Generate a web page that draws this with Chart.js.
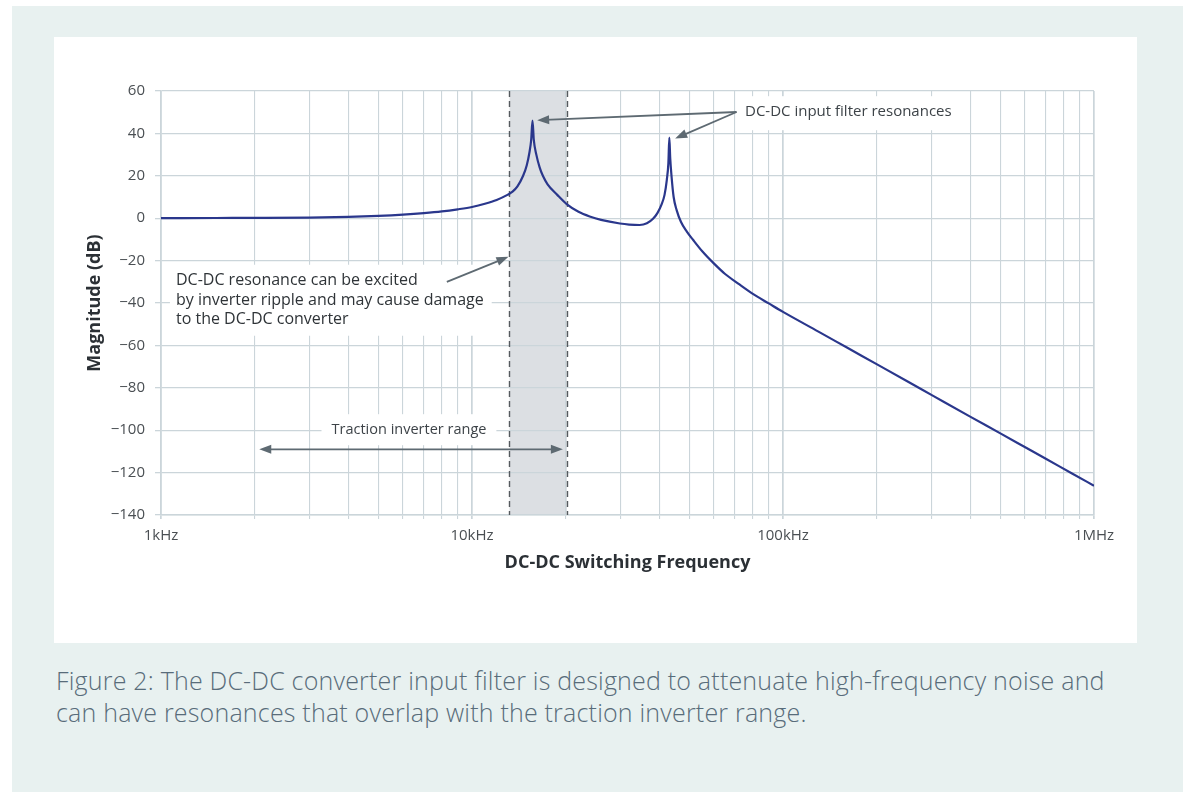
<!DOCTYPE html>
<html>
<head>
<meta charset="utf-8">
<title>DC-DC input filter response</title>
<script src="https://cdn.jsdelivr.net/npm/chart.js@4/dist/chart.umd.min.js"></script>
<style>
  html, body { margin: 0; padding: 0; background: #ffffff; }
  #frame { position: absolute; left: 12px; top: 6px; width: 1171px; height: 786px; background: #e8f1f0; }
  #panel { position: absolute; left: 42px; top: 31px; width: 1083px; height: 606px; background: #ffffff; }
  #caption { position: absolute; left: 44px; top: 658px; width: 1120px; margin: 0;
             font-family: 'Open Sans', sans-serif; font-weight: 300; font-size: 25px;
             letter-spacing: 0.2px; line-height: 32px; color: #586c7a; white-space: nowrap; }
</style>
</head>
<body>
<div id="frame">
  <div id="panel"><canvas id="chart" width="1083" height="606"></canvas></div>
  <p id="caption">Figure 2: The DC-DC converter input filter is designed to attenuate high-frequency noise and<br>can have resonances that overlap with the traction inverter range.</p>
</div>
<script>
// Input filter magnitude response (Hz, dB)
const freqHz = [
  1000, 1500, 2000, 3000, 4000, 5000, 6000, 7000, 8000, 9000,
  10000, 11000, 12000, 13000, 13500, 14000, 14600, 15000, 15300, 15500,
  15650, 15800, 16100, 16500, 16900, 17500, 18800, 20200, 22000, 23900,
  26000, 29900, 32000, 34600, 36500, 38200, 39500, 40700, 41600, 42300,
  42800, 43100, 43400, 43800, 44500, 45500, 47000, 49000, 51500, 55000,
  59800, 65000, 72000, 80000, 90000, 100000, 130000, 160000, 202000, 250000,
  304000, 401000, 500000, 595000, 700000, 850000, 1000000
];
const magnitudeDb = [
  0, 0.1, 0.15, 0.3, 0.6, 1.1, 1.7, 2.4, 3.2, 4.2,
  5.3, 6.8, 8.6, 11, 12.5, 15, 20, 25, 31, 37,
  46, 37, 30, 24, 20, 16, 11, 6.5, 3, 0.8,
  -0.8, -2.5, -3, -3.2, -2.4, -0.3, 2.5, 6.5, 11, 18,
  26, 38, 28, 20, 10, 3.8, -1.8, -6.2, -10.4, -15.6,
  -21.2, -26.2, -31, -35.7, -40.2, -44.2, -53.5, -60.9, -69.2, -76.8,
  -83.8, -93.7, -101.5, -107.7, -113.5, -120.4, -126.2
];

// Axis ticks
const yTicks = [-140, -120, -100, -80, -60, -40, -20, 0, 20, 40, 60];
const decades = [1000, 10000, 100000, 1000000];
const decadeLabels = ['1kHz', '10kHz', '100kHz', '1MHz'];

// Traction inverter band and annotations (data units)
const inverterBand = [13200, 20200];
const rangeArrow = { from: 2070, to: 19600, db: -109 };
const resonanceLabel = { text: 'DC-DC input filter resonances', f: 75500, db: 50 };
const resonanceTips = [ { f: 16200, db: 46.2 }, { f: 45000, db: 37.6 } ];
const resonanceStart = { f: 70900, db: 50.1 };
const noteLines = ['DC-DC resonance can be excited', 'by inverter ripple and may cause damage', 'to the DC-DC converter'];
const noteAnchor = { f: 1117, db: -29.5 };
const noteArrow = { from: { f: 8300, db: -30 }, to: { f: 13100, db: -18.2 } };
const rangeLabel = { text: 'Traction inverter range', f: 6270, db: -100 };

const xTickValues = [];
for (let d = 0; d < 3; d++) {
  for (let m = 1; m <= 9; m++) xTickValues.push(m * decades[d]);
}
xTickValues.push(decades[3]);

const points = freqHz.map((f, i) => ({ x: f, y: magnitudeDb[i] }));

const GRID = '#cbd5da';
const ARROW = '#5e6a72';

function arrowHead(ctx, x0, y0, x1, y1) {
  const a = Math.atan2(y1 - y0, x1 - x0);
  const len = 12, w = 4.5;
  ctx.beginPath();
  ctx.moveTo(x1, y1);
  ctx.lineTo(x1 - len * Math.cos(a) + w * Math.sin(a), y1 - len * Math.sin(a) - w * Math.cos(a));
  ctx.lineTo(x1 - len * Math.cos(a) - w * Math.sin(a), y1 - len * Math.sin(a) + w * Math.cos(a));
  ctx.closePath();
  ctx.fill();
}
function arrow(ctx, x0, y0, x1, y1, both) {
  const a = Math.atan2(y1 - y0, x1 - x0);
  ctx.beginPath();
  ctx.moveTo(both ? x0 + 8 * Math.cos(a) : x0, both ? y0 + 8 * Math.sin(a) : y0);
  ctx.lineTo(x1 - 8 * Math.cos(a), y1 - 8 * Math.sin(a));
  ctx.stroke();
  arrowHead(ctx, x0, y0, x1, y1);
  if (both) arrowHead(ctx, x1, y1, x0, y0);
}

// Shaded inverter band, drawn beneath the grid
const bandPlugin = {
  id: 'band',
  beforeDraw(chart) {
    const { ctx, chartArea: a, scales: { x } } = chart;
    const x0 = x.getPixelForValue(inverterBand[0]);
    const x1 = x.getPixelForValue(inverterBand[1]);
    ctx.save();
    ctx.fillStyle = '#dcdfe3';
    ctx.fillRect(x0, a.top, x1 - x0, a.bottom - a.top);
    ctx.restore();
  }
};

// Labels, boxes, arrows and band edges, drawn over the grid
const notesPlugin = {
  id: 'notes',
  beforeDatasetsDraw(chart) {
    const { ctx, chartArea: a, scales: { x, y } } = chart;
    const px = f => x.getPixelForValue(f);
    const py = v => y.getPixelForValue(v);
    ctx.save();

    // dashed band edges
    ctx.strokeStyle = '#555a5e';
    ctx.lineWidth = 1.4;
    ctx.setLineDash([6, 4]);
    inverterBand.forEach(f => {
      const xx = Math.round(px(f)) + 0.5;
      ctx.beginPath(); ctx.moveTo(xx, a.top); ctx.lineTo(xx, a.bottom); ctx.stroke();
    });
    ctx.setLineDash([]);

    ctx.textBaseline = 'middle';

    // resonance label
    ctx.font = "15px 'Open Sans', sans-serif";
    let lx = px(resonanceLabel.f), ly = py(resonanceLabel.db);
    let w = ctx.measureText(resonanceLabel.text).width;
    ctx.fillStyle = '#ffffff';
    ctx.fillRect(lx - 6, ly - 16, w + 12, 34);
    ctx.fillStyle = '#3d4348';
    ctx.textAlign = 'left';
    ctx.fillText(resonanceLabel.text, lx, ly);

    // note block
    ctx.font = "16px 'Open Sans', sans-serif";
    const nx = px(noteAnchor.f), ny = py(noteAnchor.db);
    const lh = 19.5;
    let nw = 0;
    noteLines.forEach(t => { nw = Math.max(nw, ctx.measureText(t).width); });
    ctx.fillStyle = '#ffffff';
    ctx.fillRect(nx - 6, ny - 16, nw + 14, lh * 2 + 32);
    ctx.fillStyle = '#2f3438';
    noteLines.forEach((t, i) => ctx.fillText(t, nx, ny + i * lh));

    // range label
    ctx.font = "14.5px 'Open Sans', sans-serif";
    const rx = px(rangeLabel.f), ry = py(rangeLabel.db);
    w = ctx.measureText(rangeLabel.text).width;
    ctx.fillStyle = '#ffffff';
    ctx.fillRect(rx - w / 2 - 10, ry - 16, w + 20, 31);
    ctx.fillStyle = '#3d4348';
    ctx.textAlign = 'center';
    ctx.fillText(rangeLabel.text, rx, ry);

    // arrows
    ctx.strokeStyle = ARROW;
    ctx.fillStyle = ARROW;
    ctx.lineWidth = 1.8;
    resonanceTips.forEach(t => {
      arrow(ctx, px(resonanceStart.f), py(resonanceStart.db), px(t.f), py(t.db), false);
    });
    arrow(ctx, px(noteArrow.from.f), py(noteArrow.from.db), px(noteArrow.to.f), py(noteArrow.to.db), false);
    arrow(ctx, px(rangeArrow.from), py(rangeArrow.db), px(rangeArrow.to), py(rangeArrow.db), true);

    ctx.restore();
  }
};

Chart.defaults.font.family = "'Open Sans', sans-serif";

new Chart(document.getElementById('chart'), {
  type: 'line',
  data: {
    datasets: [{
      data: points,
      borderColor: '#2a378c',
      borderWidth: 2.2,
      pointRadius: 0,
      cubicInterpolationMode: 'monotone',
      fill: false
    }]
  },
  options: {
    responsive: false,
    animation: false,
    devicePixelRatio: 1,
    layout: { padding: { top: 54, right: 43, left: 0, bottom: 0 } },
    plugins: { legend: { display: false }, tooltip: { enabled: false } },
    scales: {
      x: {
        type: 'logarithmic',
        min: 1000,
        max: 1000000,
        afterBuildTicks(scale) { scale.ticks = xTickValues.map(v => ({ value: v })); },
        afterFit(scale) { scale.height = 128; },
        ticks: {
          autoSkip: false,
          maxRotation: 0,
          padding: 8,
          color: '#4a4f53',
          font: { size: 15 },
          callback(value) {
            const i = decades.indexOf(value);
            return i >= 0 ? decadeLabels[i] : '';
          }
        },
        grid: {
          color: GRID,
          lineWidth: c => (c.tick && decades.indexOf(c.tick.value) >= 0 ? 1.7 : 1.1),
          tickLength: 4
        },
        border: { color: GRID, width: 1.4 },
        title: {
          display: true,
          text: 'DC-DC Switching Frequency',
          color: '#2b3035',
          font: { size: 18, weight: 'bold' },
          padding: { top: 0, bottom: 69 }
        }
      },
      y: {
        min: -140,
        max: 60,
        afterBuildTicks(scale) { scale.ticks = yTicks.map(v => ({ value: v })); },
        afterFit(scale) { scale.width = 107; },
        ticks: {
          padding: 10,
          color: '#4a4f53',
          font: { size: 15 },
          callback: v => (v < 0 ? '\u2212' + Math.abs(v) : String(v))
        },
        grid: { color: GRID, lineWidth: 1.3, tickLength: 6 },
        border: { color: GRID, width: 1.4 },
        title: {
          display: true,
          text: 'Magnitude (dB)',
          color: '#2b3035',
          font: { size: 18, weight: 'bold' },
          padding: { top: 30, bottom: 0 }
        }
      }
    }
  },
  plugins: [bandPlugin, notesPlugin]
});
</script>
</body>
</html>
